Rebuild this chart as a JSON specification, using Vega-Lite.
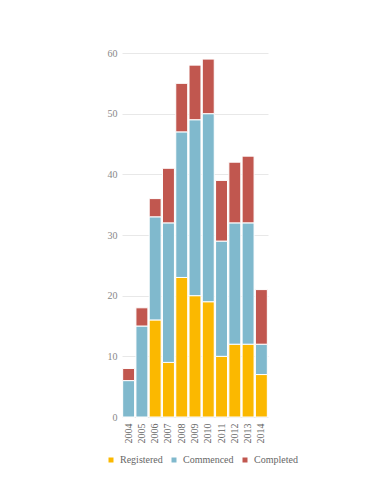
{
  "$schema": "https://vega.github.io/schema/vega-lite/v6.json",
  "autosize": {"type": "none"},
  "width": 146,
  "height": 364,
  "padding": {"left": 122, "top": 53, "right": 106, "bottom": 73},
  "background": "white",
  "data": {"values": [
    {"year": "2004", "status": "Registered", "ord": 1, "value": 0},
    {"year": "2004", "status": "Commenced", "ord": 2, "value": 6},
    {"year": "2004", "status": "Completed", "ord": 3, "value": 2},
    {"year": "2005", "status": "Registered", "ord": 1, "value": 0},
    {"year": "2005", "status": "Commenced", "ord": 2, "value": 15},
    {"year": "2005", "status": "Completed", "ord": 3, "value": 3},
    {"year": "2006", "status": "Registered", "ord": 1, "value": 16},
    {"year": "2006", "status": "Commenced", "ord": 2, "value": 17},
    {"year": "2006", "status": "Completed", "ord": 3, "value": 3},
    {"year": "2007", "status": "Registered", "ord": 1, "value": 9},
    {"year": "2007", "status": "Commenced", "ord": 2, "value": 23},
    {"year": "2007", "status": "Completed", "ord": 3, "value": 9},
    {"year": "2008", "status": "Registered", "ord": 1, "value": 23},
    {"year": "2008", "status": "Commenced", "ord": 2, "value": 24},
    {"year": "2008", "status": "Completed", "ord": 3, "value": 8},
    {"year": "2009", "status": "Registered", "ord": 1, "value": 20},
    {"year": "2009", "status": "Commenced", "ord": 2, "value": 29},
    {"year": "2009", "status": "Completed", "ord": 3, "value": 9},
    {"year": "2010", "status": "Registered", "ord": 1, "value": 19},
    {"year": "2010", "status": "Commenced", "ord": 2, "value": 31},
    {"year": "2010", "status": "Completed", "ord": 3, "value": 9},
    {"year": "2011", "status": "Registered", "ord": 1, "value": 10},
    {"year": "2011", "status": "Commenced", "ord": 2, "value": 19},
    {"year": "2011", "status": "Completed", "ord": 3, "value": 10},
    {"year": "2012", "status": "Registered", "ord": 1, "value": 12},
    {"year": "2012", "status": "Commenced", "ord": 2, "value": 20},
    {"year": "2012", "status": "Completed", "ord": 3, "value": 10},
    {"year": "2013", "status": "Registered", "ord": 1, "value": 12},
    {"year": "2013", "status": "Commenced", "ord": 2, "value": 20},
    {"year": "2013", "status": "Completed", "ord": 3, "value": 11},
    {"year": "2014", "status": "Registered", "ord": 1, "value": 7},
    {"year": "2014", "status": "Commenced", "ord": 2, "value": 5},
    {"year": "2014", "status": "Completed", "ord": 3, "value": 9}
  ]},
  "mark": {"type": "bar", "stroke": "white", "strokeWidth": 1},
  "encoding": {
    "x": {
      "field": "year", "type": "nominal", "title": null,
      "scale": {"paddingInner": 0.1, "paddingOuter": 0.05},
      "axis": {"labelAngle": -90, "domain": false, "ticks": false, "labelPadding": 6,
               "labelFont": "Liberation Serif", "labelFontSize": 10, "labelColor": "#666"}
    },
    "y": {
      "field": "value", "type": "quantitative", "aggregate": "sum", "title": null, "stack": "zero",
      "scale": {"domain": [0, 60]},
      "axis": {"values": [0, 10, 20, 30, 40, 50, 60], "domain": false, "ticks": false, "labelPadding": 5,
               "labelFont": "Liberation Serif", "labelFontSize": 10, "labelColor": "#888",
               "gridColor": "#e8e8e8", "gridWidth": 1}
    },
    "color": {
      "field": "status", "type": "nominal",
      "scale": {"domain": ["Registered", "Commenced", "Completed"], "range": ["#fbb800", "#80b9cd", "#c1574f"]},
      "legend": {"title": null, "orient": "none", "direction": "horizontal", "legendX": -16, "legendY": 402,
                 "symbolType": "square", "symbolSize": 25, "symbolStrokeWidth": 0, "labelOffset": 4,
                 "labelFont": "Liberation Serif", "labelFontSize": 10, "labelColor": "#666", "columnPadding": 6}
    },
    "order": {"field": "ord", "type": "quantitative"}
  },
  "config": {"view": {"stroke": null}}
}
